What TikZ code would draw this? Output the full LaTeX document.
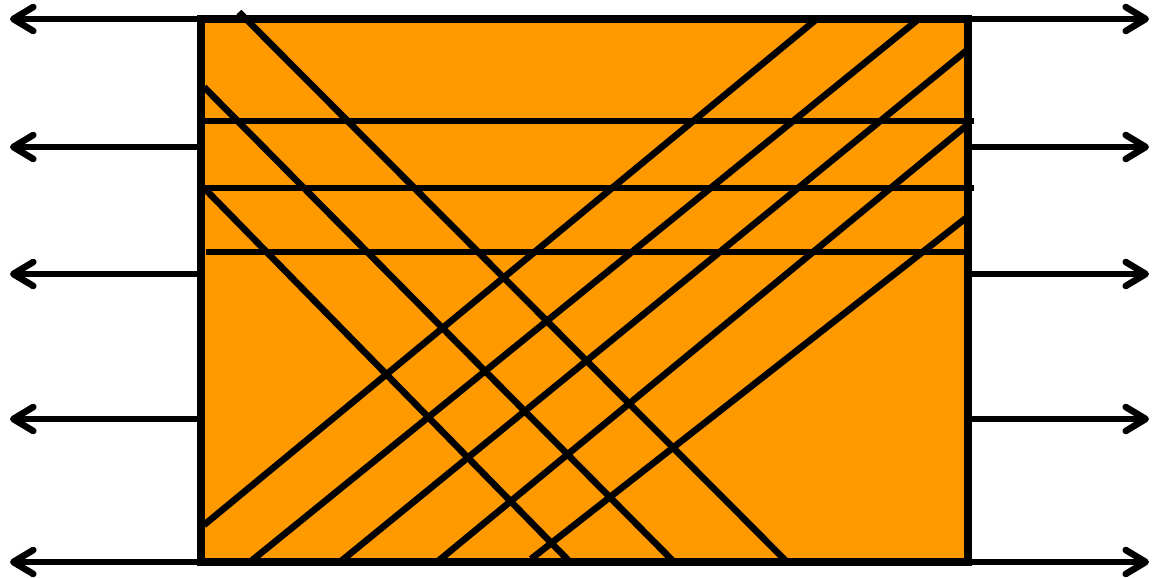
\documentclass[tikz,border=0pt]{standalone}
\usetikzlibrary{arrows.meta}
\definecolor{boxorange}{RGB}{255,153,0}
\begin{document}
\begin{tikzpicture}[x=0.5pt,y=-0.5pt,
  frame/.style={draw=black,line width=4pt,fill=boxorange},
  hatch/.style={draw=black,line width=3.3pt},
  outarrow/.style={draw=black,line width=3.3pt,line cap=round,
    -{Straight Barb[length=10pt,width=12pt,line cap=round,line join=round]}}]
\useasboundingbox (0,0) rectangle (1152,578);
% rectangle corners
\coordinate (tl) at (201,19);
\coordinate (br) at (968,562);
\draw[frame] (tl) rectangle (br);
% horizontal lines
\coordinate (h1a) at (204,121); \coordinate (h1b) at (974,121);
\coordinate (h2a) at (204,188); \coordinate (h2b) at (974,188);
\coordinate (h3a) at (206,252); \coordinate (h3b) at (966,252);
\draw[hatch] (h1a) -- (h1b);
\draw[hatch] (h2a) -- (h2b);
\draw[hatch] (h3a) -- (h3b);
% down-right diagonals
\coordinate (d1a) at (239,12); \coordinate (d1b) at (787,562);
\coordinate (d2a) at (204,87); \coordinate (d2b) at (674,562);
\coordinate (d3a) at (206,190); \coordinate (d3b) at (570,562);
\draw[hatch] (d1a) -- (d1b);
\draw[hatch] (d2a) -- (d2b);
\draw[hatch] (d3a) -- (d3b);
% up-right diagonals
\coordinate (u1a) at (204,525); \coordinate (u1b) at (818,18);
\coordinate (u2a) at (250,562); \coordinate (u2b) at (920,18);
\coordinate (u3a) at (340,562); \coordinate (u3b) at (966,51);
\coordinate (u4a) at (437,562); \coordinate (u4b) at (966,126);
\coordinate (u5a) at (531,559); \coordinate (u5b) at (966,218);
\draw[hatch] (u1a) -- (u1b);
\draw[hatch] (u2a) -- (u2b);
\draw[hatch] (u3a) -- (u3b);
\draw[hatch] (u4a) -- (u4b);
\draw[hatch] (u5a) -- (u5b);
% arrows
\foreach \i/\y in {1/19,2/147,3/274,4/419,5/562}{
  \coordinate (ls\i) at (201,\y); \coordinate (lt\i) at (10,\y);
  \coordinate (rs\i) at (968,\y); \coordinate (rt\i) at (1149,\y);
  \draw[outarrow] (ls\i) -- (lt\i);
  \draw[outarrow] (rs\i) -- (rt\i);
}
\end{tikzpicture}
\end{document}
